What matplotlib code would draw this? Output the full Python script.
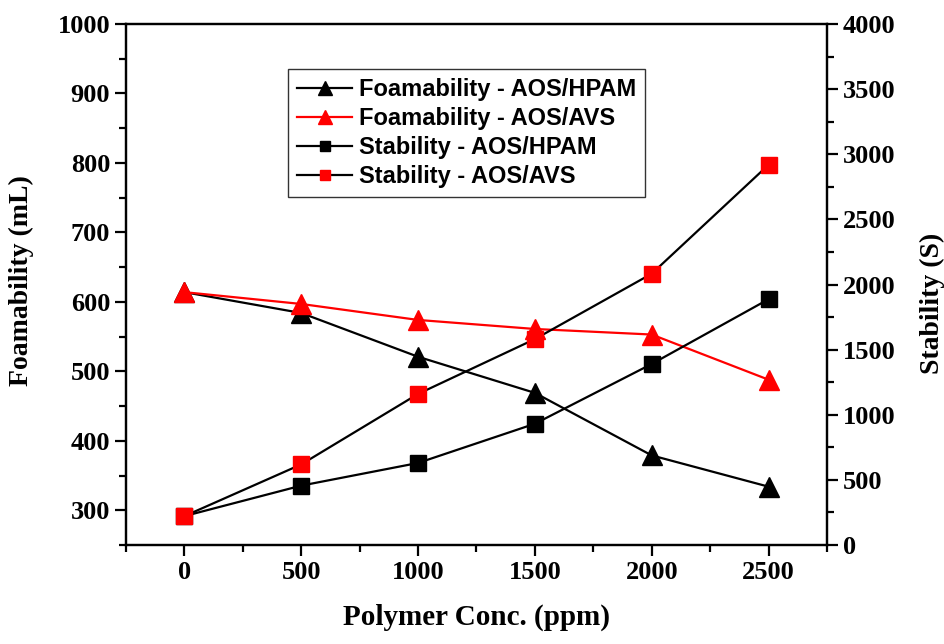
import matplotlib
matplotlib.use("Agg")
from matplotlib import pyplot as plt
from matplotlib.ticker import MultipleLocator
from matplotlib.font_manager import FontProperties

conc = [0, 500, 1000, 1500, 2000, 2500]

foam_hpam = [614, 584, 521, 469, 379, 334]
foam_avs = [614, 597, 574, 561, 553, 488]
stab_hpam = [222, 456, 630, 931, 1390, 1887]
stab_avs = [222, 619, 1160, 1581, 2083, 2919]

labels = [
    "Foamability - AOS/HPAM",
    "Foamability - AOS/AVS",
    "Stability - AOS/HPAM",
    "Stability - AOS/AVS",
]

serif = "Liberation Serif"
tick_font = {"family": serif, "weight": "bold", "size": 19}

fig = plt.figure(figsize=(9.44, 6.44), dpi=100)
ax = fig.add_axes([0.1335, 0.1537, 0.7425, 0.809])
ax2 = ax.twinx()

h1, = ax.plot(conc, foam_hpam, color="black", lw=1.6, marker="^", ms=15,
              mfc="black", mec="black", label=labels[0])
h2, = ax.plot(conc, foam_avs, color="red", lw=1.6, marker="^", ms=15,
              mfc="red", mec="red", label=labels[1])
h3, = ax2.plot(conc, stab_hpam, color="black", lw=1.6, marker="s", ms=11,
               mfc="black", mec="black", label=labels[2])
h4, = ax2.plot(conc, stab_avs, color="black", lw=1.6, marker="s", ms=11,
               mfc="red", mec="red", label=labels[3])

ax.set_xlim(-250, 2750)
ax.set_ylim(250, 1000)
ax2.set_ylim(0, 4000)

ax.xaxis.set_major_locator(MultipleLocator(500))
ax.xaxis.set_minor_locator(MultipleLocator(250))
ax.yaxis.set_major_locator(MultipleLocator(100))
ax.yaxis.set_minor_locator(MultipleLocator(50))
ax2.yaxis.set_major_locator(MultipleLocator(500))
ax2.yaxis.set_minor_locator(MultipleLocator(250))

for a in (ax, ax2):
    for s in a.spines.values():
        s.set_linewidth(1.6)
    a.tick_params(which="major", direction="out", length=8, width=1.6)
    a.tick_params(which="minor", direction="out", length=5, width=1.6)
ax.tick_params(axis="x", which="both", top=False)
ax2.tick_params(axis="x", which="both", top=False, bottom=False)

ax.set_xticks(conc)
ax.set_xticklabels([str(c) for c in conc], fontdict=tick_font)
ax.set_yticks(range(300, 1001, 100))
ax.set_yticklabels([str(v) for v in range(300, 1001, 100)], fontdict=tick_font)
ax2.set_yticks(range(0, 4001, 500))
ax2.set_yticklabels([str(v) for v in range(0, 4001, 500)], fontdict=tick_font)

label_font = {"family": serif, "weight": "bold", "size": 21}
ax.set_xlabel("Polymer Conc. (ppm)", fontdict=label_font, labelpad=14)
ax.set_ylabel("Foamability (mL)", fontdict={**label_font, "size": 20})
ax2.set_ylabel("Stability (S)", fontdict={**label_font, "size": 20})
ax.yaxis.set_label_coords(-0.131, 0.507)
ax2.yaxis.set_label_coords(1.133, 0.464)

leg = ax2.legend(handles=[h1, h2, h3, h4], loc="upper left",
                 bbox_to_anchor=(0.231, 0.914), borderaxespad=0,
                 frameon=True, fancybox=False,
                 edgecolor="black", handlelength=2.3, handletextpad=0.3,
                 borderpad=0.4, labelspacing=0.25, markerscale=0.7,
                 prop=FontProperties(family="Liberation Sans", weight="bold", size=17))
leg.get_frame().set_linewidth(1.0)

fig.savefig("out.png", dpi=100)
